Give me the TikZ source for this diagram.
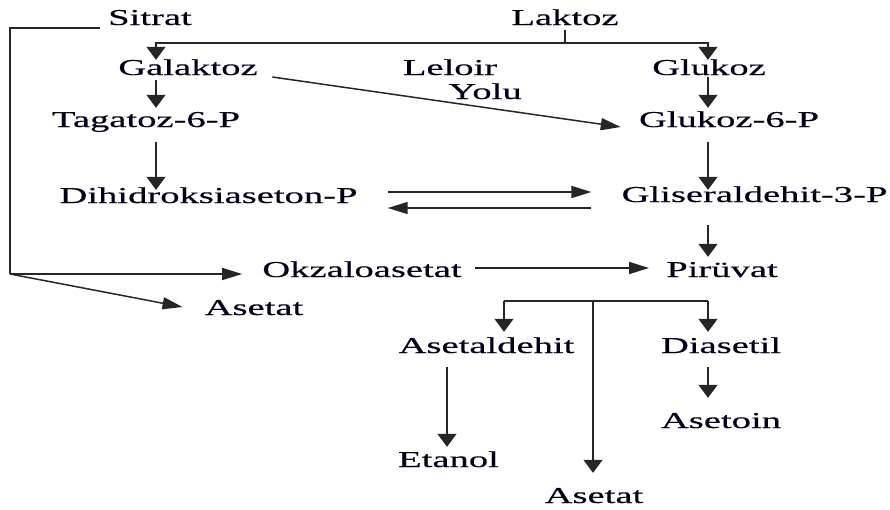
\documentclass[tikz,border=0pt]{standalone}
\usepackage{fontspec}
\setmainfont[FakeStretch=1.7,FakeBold=0.4]{Liberation Serif}
\usetikzlibrary{arrows.meta,calc}
\begin{document}
\begin{tikzpicture}[x=1pt,y=-1pt,
  lbl/.style={inner sep=0pt,anchor=base,text height=16pt,text depth=5pt,font=\fontsize{22.7pt}{26pt}\selectfont,text=black!90!blue},
  ln/.style={line width=1.5pt,draw=black!85},
  arr/.style={ln,-{Triangle[length=13pt,width=19pt]}},
  arrh/.style={ln,-{Triangle[length=20pt,width=12pt]}}]
\useasboundingbox (0,0) rectangle (890,509);
% nodes
\node[lbl] (sit) at (150,25) {Sitrat};
\node[lbl] (lak) at (565,25) {Laktoz};
\node[lbl] (gal) at (188,75) {Galaktoz};
\node[lbl] (lel) at (450,75) {Leloir};
\node[lbl] (yol) at (485,99) {Yolu};
\node[lbl] (glu) at (709,75) {Glukoz};
\node[lbl] (tag) at (146,127) {Tagatoz-6-P};
\node[lbl] (g6p) at (729,127) {Glukoz-6-P};
\node[lbl] (dih) at (208.5,203) {Dihidroksiaseton-P};
\node[lbl] (gli) at (754.5,202) {Gliseraldehit-3-P};
\node[lbl] (okz) at (362,277) {Okzaloasetat};
\node[lbl] (pir) at (722,277) {Pirüvat};
\node[lbl] (as1) at (254,315) {Asetat};
\node[lbl] (ald) at (486.5,353) {Asetaldehit};
\node[lbl] (dia) at (721,353) {Diasetil};
\node[lbl] (ato) at (721,428) {Asetoin};
\node[lbl] (eta) at (448.5,467) {Etanol};
\node[lbl] (as2) at (594,503) {Asetat};
% columns
\coordinate (cA) at (156,0);
\coordinate (cB) at (708,0);
\coordinate (cC) at (504,0);
\coordinate (cD) at (593,0);
\coordinate (cE) at (447,0);
\coordinate (cL) at (10,0);
% Laktoz split
\coordinate (lj) at ($(lak.south)+(0,13)$);
\draw[ln] (lak.south) -- (lj);
\draw[arr] (lj) -| ($(gal.north -| cA)+(0,1)$);
\draw[arr] (lj) -| ($(glu.north -| cB)+(0,1)$);
% Galaktoz column
\draw[arr] (gal.south -| cA) -- ($(tag.north -| cA)+(0,-3)$);
\draw[arr] ($(tag.south -| cA)+(0,10)$) -- ($(dih.north -| cA)+(0,3)$);
% Leloir pathway
\draw[arrh] ($(gal.east)+(14.5,7.5)$) -- ($(g6p.west)+(-18,5.5)$);
% Glukoz column
\draw[arr] ($(glu.south -| cB)+(0,-3)$) -- ($(g6p.north -| cB)+(0,-3)$);
\draw[arr] ($(g6p.south -| cB)+(0,10)$) -- ($(gli.north -| cB)+(0,4)$);
% equilibrium
\coordinate (eqL) at ($(dih.east)+(30,0)$);
\coordinate (eqR) at ($(gli.west)+(-30,0)$);
\draw[arrh] ($(eqL)+(0,-5.5)$) -- ($(eqL -| eqR)+(0,-5.5)$);
\draw[arrh] ($(eqL -| eqR)+(0,10.5)$) -- ($(eqL)+(0,10.5)$);
% to Piruvat
\draw[arr] ($(gli.south -| cB)+(0,18)$) -- ($(pir.north -| cB)+(0,-4)$);
\coordinate (ok1) at ($(okz.east)+(13,-3.5)$);
\draw[arrh] (ok1) -- ($(ok1 -| pir.west)+(-17,0)$);
% Sitrat
\coordinate (sj) at ($(okz.west -| cL)+(0,2.5)$);
\draw[ln] ($(sit.west)+(-8,8.5)$) -| (sj);
\draw[arrh] (sj) -- ($(sj -| okz.west)+(-20,0)$);
\draw[arrh] (sj) -- ($(as1.west)+(-22,-2.5)$);
% Piruvat split
\coordinate (pj) at ($(pir.south -| cB)+(0,19)$);
\draw[ln] (pj) -- (pj -| cC);
\draw[arr] (pj -| cC) -- ($(ald.north -| cC)+(0,-5)$);
\draw[arr] (pj) -- ($(dia.north -| cB)+(0,-5)$);
\draw[arr] (pj -| cD) -- ($(as2.north -| cD)+(0,-14)$);
\draw[arr] ($(ald.south -| cE)+(0,9)$) -- ($(eta.north -| cE)+(0,-4)$);
\draw[arr] ($(dia.south -| cB)+(0,9)$) -- ($(ato.north -| cB)+(0,-14)$);
\end{tikzpicture}
\end{document}
